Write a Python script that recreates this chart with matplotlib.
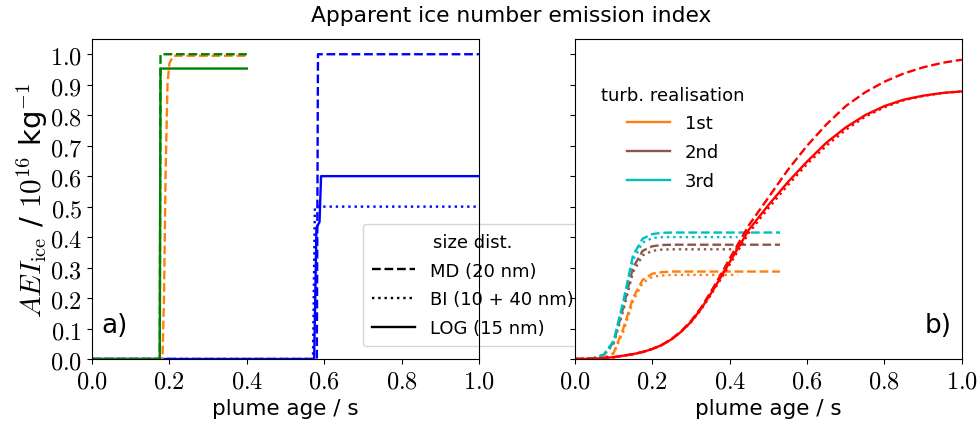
import matplotlib
matplotlib.use('Agg')
import matplotlib.pyplot as plt
from matplotlib.lines import Line2D
from matplotlib.ticker import FuncFormatter

plt.rcParams['font.family'] = ['DejaVu Sans']
plt.rcParams['mathtext.fontset'] = 'cm'

# ---- panel a) : size distributions, step-like activation ----
t_green = [0.0, 0.175, 0.177, 0.40]
green_md = [0.0, 0.0, 1.0, 1.0]
green_log = [0.0, 0.0, 0.953, 0.953]

t_orange_a = [0.0, 0.182, 0.186, 0.190, 0.195, 0.200, 0.210, 0.40]
orange_md_a = [0.0, 0.0, 0.2, 0.6, 0.9, 0.97, 0.995, 0.995]

t_blue_md = [0.0, 0.581, 0.584, 1.0]
blue_md = [0.0, 0.0, 1.0, 1.0]
t_blue_bi = [0.0, 0.571, 0.574, 0.576, 1.0]
blue_bi = [0.0, 0.0, 0.3, 0.5, 0.5]
t_blue_log = [0.0, 0.574, 0.577, 0.580, 0.588, 0.592, 1.0]
blue_log = [0.0, 0.0, 0.2, 0.43, 0.45, 0.6, 0.6]

# ---- panel b) : turbulence realisations ----
t_red = [0.0, 0.05, 0.10, 0.15, 0.175, 0.20, 0.225, 0.25, 0.275, 0.30, 0.325, 0.35,
         0.375, 0.40, 0.45, 0.50, 0.55, 0.60, 0.65, 0.70, 0.75, 0.80, 0.85, 0.90,
         0.95, 1.0]
red_md = [0.0, 0.001, 0.006, 0.016, 0.023, 0.033, 0.047, 0.066, 0.092, 0.125, 0.167,
          0.218, 0.272, 0.33, 0.44, 0.53, 0.62, 0.70, 0.77, 0.83, 0.875, 0.91, 0.937,
          0.957, 0.972, 0.982]
red_bi = [0.0, 0.001, 0.006, 0.016, 0.023, 0.033, 0.046, 0.065, 0.09, 0.121, 0.16,
          0.208, 0.258, 0.31, 0.415, 0.495, 0.57, 0.64, 0.70, 0.752, 0.795, 0.826,
          0.849, 0.863, 0.873, 0.878]
red_log = [0.0, 0.001, 0.006, 0.016, 0.023, 0.033, 0.046, 0.065, 0.09, 0.122, 0.163,
           0.212, 0.264, 0.318, 0.425, 0.505, 0.58, 0.648, 0.71, 0.76, 0.80, 0.83,
           0.851, 0.864, 0.873, 0.878]

t_turb_md = [0.0, 0.025, 0.05, 0.075, 0.10, 0.125, 0.15, 0.175, 0.20, 0.225, 0.25, 0.30, 0.53]
t_turb_bi = [0.0, 0.025, 0.05, 0.075, 0.10, 0.125, 0.15, 0.175, 0.20, 0.225, 0.25, 0.30, 0.42]
cyan_md = [0.0, 0.0, 0.003, 0.015, 0.06, 0.19, 0.34, 0.395, 0.41, 0.414, 0.415, 0.415, 0.415]
cyan_bi = [0.0, 0.0, 0.003, 0.014, 0.055, 0.18, 0.325, 0.382, 0.397, 0.40, 0.40, 0.40, 0.40]
brown_md = [0.0, 0.0, 0.003, 0.014, 0.055, 0.17, 0.30, 0.355, 0.37, 0.374, 0.375, 0.375, 0.375]
brown_bi = [0.0, 0.0, 0.003, 0.013, 0.05, 0.16, 0.285, 0.34, 0.355, 0.359, 0.36, 0.36, 0.36]
orange_md = [0.0, 0.0, 0.0, 0.003, 0.02, 0.10, 0.20, 0.26, 0.28, 0.285, 0.287, 0.287, 0.287]
orange_bi = [0.0, 0.0, 0.0, 0.003, 0.018, 0.09, 0.19, 0.25, 0.27, 0.274, 0.276, 0.276, 0.276]

size_labels = ['MD (20 nm)', 'BI (10 + 40 nm)', 'LOG (15 nm)']
turb_labels = ['1st', '2nd', '3rd']
turb_colors = ['tab:orange', 'tab:brown', 'c']

fig = plt.figure(figsize=(9.77, 4.31), dpi=100)
ax1 = fig.add_axes([0.0942, 0.1647, 0.396, 0.7425])
ax2 = fig.add_axes([0.5885, 0.1647, 0.396, 0.7425], sharey=ax1)

lw = 1.7
# panel a
ax1.plot(t_blue_md, blue_md, color='blue', ls='--', lw=lw)
ax1.plot(t_blue_bi, blue_bi, color='blue', ls=':', lw=lw)
ax1.plot(t_blue_log, blue_log, color='blue', ls='-', lw=lw)
ax1.plot(t_orange_a, orange_md_a, color='tab:orange', ls='--', lw=lw)
ax1.plot(t_green, green_md, color='green', ls='--', lw=lw)
ax1.plot(t_green, green_log, color='green', ls='-', lw=lw)

# panel b
for md, bi, c in [(orange_md, orange_bi, turb_colors[0]),
                  (brown_md, brown_bi, turb_colors[1]),
                  (cyan_md, cyan_bi, turb_colors[2])]:
    ax2.plot(t_turb_md, md, color=c, ls='--', lw=lw)
    ax2.plot(t_turb_bi, bi, color=c, ls=':', lw=lw)
ax2.plot(t_red, red_md, color='red', ls='--', lw=lw)
ax2.plot(t_red, red_bi, color='red', ls=':', lw=lw)
ax2.plot(t_red, red_log, color='red', ls='-', lw=lw)

fmt = FuncFormatter(lambda v, p: r'${:.1f}$'.format(v))
for ax in (ax1, ax2):
    ax.set_xlim(0, 1)
    ax.set_ylim(0, 1.05)
    ax.set_xticks([0, 0.2, 0.4, 0.6, 0.8, 1.0])
    ax.set_yticks([0, 0.1, 0.2, 0.3, 0.4, 0.5, 0.6, 0.7, 0.8, 0.9, 1.0])
    ax.xaxis.set_major_formatter(fmt)
    ax.yaxis.set_major_formatter(fmt)
    ax.tick_params(labelsize=17.5)
    ax.set_xlabel('plume age / s', fontsize=15.5)
ax2.tick_params(labelleft=False)

ax1.set_ylabel(r'$AEI_{\rm ice}$ / $10^{16}$ kg$^{-1}$', fontsize=21, labelpad=0)
ax1.text(0.025, 0.085, 'a)', transform=ax1.transAxes, fontsize=19)
ax2.text(0.905, 0.085, 'b)', transform=ax2.transAxes, fontsize=19)

size_handles = [Line2D([], [], color='k', ls=s, lw=lw) for s in ['--', ':', '-']]
leg1 = ax1.legend(size_handles, size_labels, title='size dist.', fontsize=13,
                  title_fontsize=13, loc='lower left', bbox_to_anchor=(0.70, 0.04),
                  borderaxespad=0, handlelength=2.4, labelspacing=0.6, borderpad=0.5)
leg1.set_zorder(2.4)

turb_handles = [Line2D([], [], color=c, lw=lw) for c in turb_colors]
ax2.legend(turb_handles, turb_labels, title='turb. realisation', fontsize=13,
           title_fontsize=13, loc='upper left', bbox_to_anchor=(0.026, 0.905),
           frameon=False, handlelength=2.4, labelspacing=0.6)

fig.suptitle('Apparent ice number emission index', x=0.523, y=0.985, fontsize=15.7)

fig.savefig('out.png', dpi=100)
